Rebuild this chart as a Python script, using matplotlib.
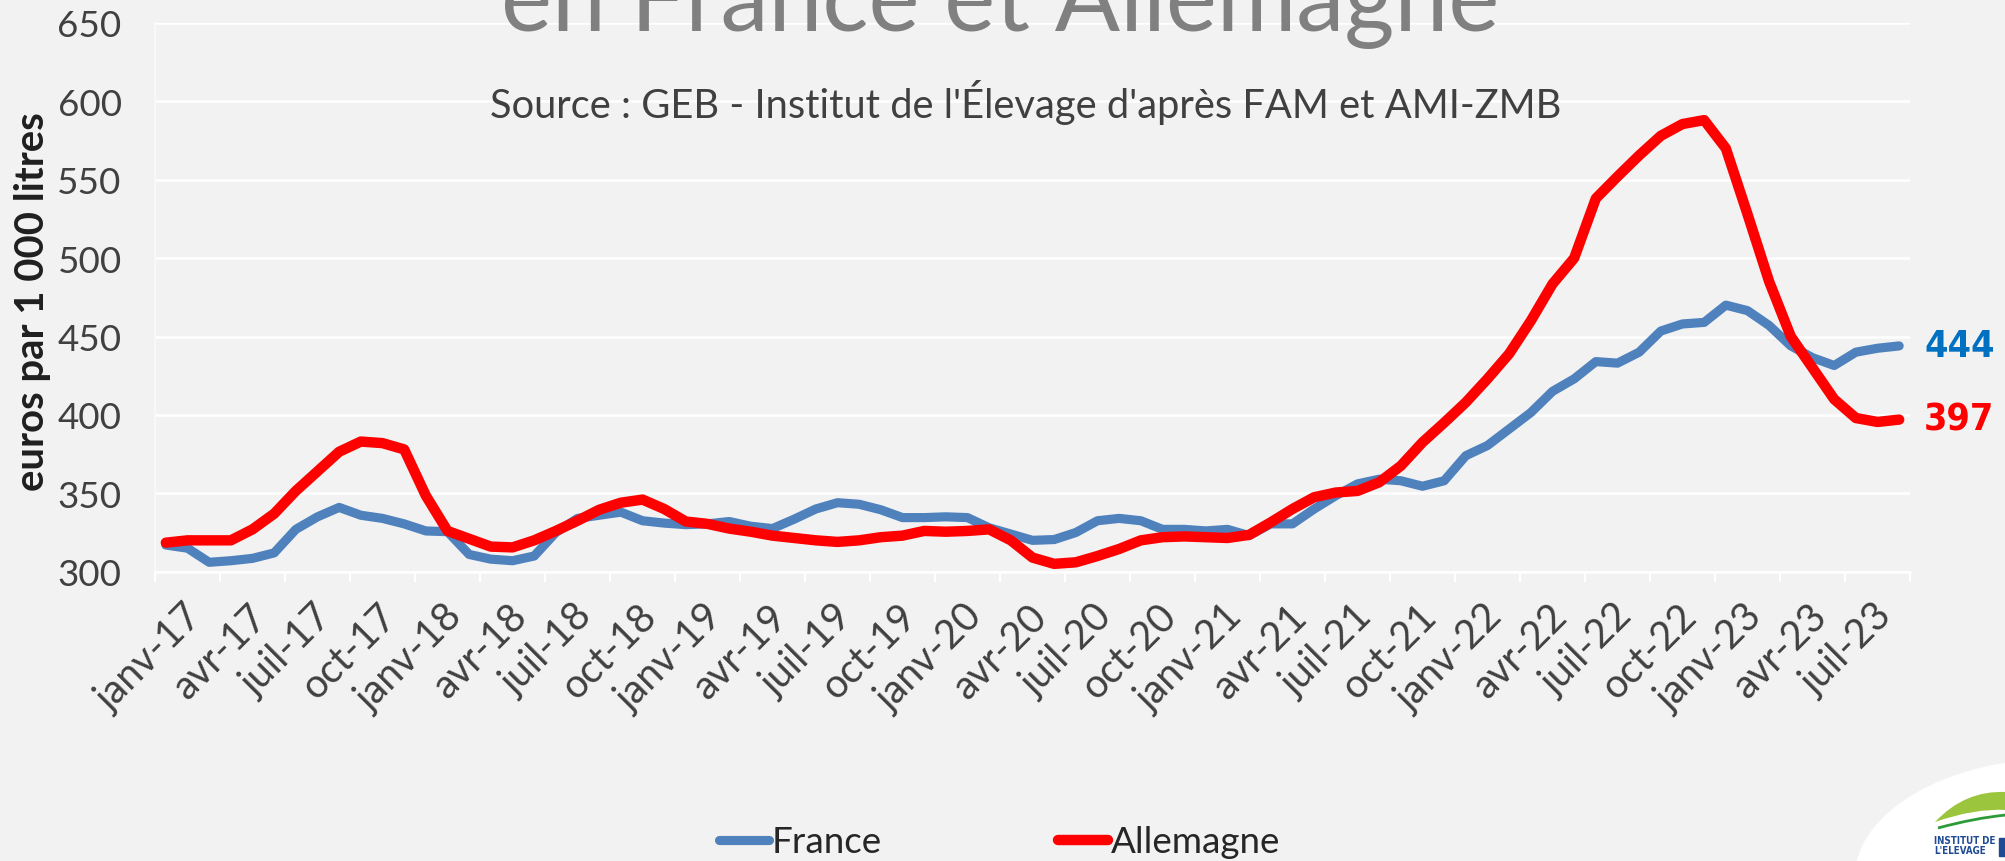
import matplotlib
matplotlib.use("Agg")
import matplotlib.pyplot as plt
from matplotlib import font_manager as fm
from matplotlib.patches import Ellipse, PathPatch, Rectangle
from matplotlib.path import Path
from matplotlib.transforms import ScaledTranslation
import numpy as np

# ---------------- data ----------------
tick_labels = ['janv-17', 'avr-17', 'juil-17', 'oct-17', 'janv-18', 'avr-18', 'juil-18', 'oct-18',
               'janv-19', 'avr-19', 'juil-19', 'oct-19', 'janv-20', 'avr-20', 'juil-20', 'oct-20',
               'janv-21', 'avr-21', 'juil-21', 'oct-21', 'janv-22', 'avr-22', 'juil-22', 'oct-22',
               'janv-23', 'avr-23', 'juil-23']
label_step = 3          # one label every 3 months
n_months = 81           # janv-17 .. sept-23

france = [317, 315, 306, 307, 308.5, 312, 327, 335, 341, 336, 334, 330.5,
          326, 325.5, 311, 308, 307, 310, 325, 334, 336, 338, 332.5, 331,
          330, 330.5, 332, 329, 327.5, 333.5, 340, 344, 343, 339.5, 334.5, 334.5,
          335, 334.5, 328, 324, 320, 320.5, 325, 332.5, 334, 332.5, 327,
          327, 326, 327, 323, 330.5, 330.5, 340, 348.5, 356, 359, 358, 354.5,
          358, 374, 380.5, 391, 401.5, 415, 423, 434, 433, 440, 453.5, 458,
          459, 470, 466.5, 457, 444, 436.5, 431.5, 440, 442.5, 444]

allemagne = [318.5, 320, 320, 320, 327, 337, 351.5, 364, 376.5, 383, 382, 378,
             348.5, 326, 321, 316, 315.5, 320, 326, 332.5, 339.5, 344, 346, 340,
             332, 330.5, 327.5, 325.5, 323, 321.5, 320, 319, 320, 322, 323, 326,
             325.5, 326, 327, 320, 309, 305, 306, 310, 314.5, 320, 322,
             322.5, 322, 321.5, 323.5, 331.5, 340, 347.5, 350.5, 351.5, 357, 367.5,
             382.5, 395, 408, 423, 439, 460, 483.5,
             500, 538, 552, 565.5, 578, 585.5, 588, 570, 528, 485, 450, 430, 410,
             398, 395.5, 397]

series_names = ['France', 'Allemagne']
series_colors = ['#4F81BD', '#FF0000']
label_colors = ['#0070C0', '#FF0000']
y_ticks = [300, 350, 400, 450, 500, 550, 600, 650]

title_text = 'en France et Allemagne'
source_text = "Source : GEB - Institut de l'Élevage d'après FAM et AMI-ZMB"
ylabel_text = 'euros par 1 000 litres'

# ---------------- fonts ----------------
avail = {f.name for f in fm.fontManager.ttflist}
base_font = 'Lato' if 'Lato' in avail else 'DejaVu Sans'
if 'Liberation Sans Narrow' in avail:
    narrow_kw = {'family': 'Liberation Sans Narrow'}
elif any(f.name == 'DejaVu Sans' and f.stretch == 'condensed' for f in fm.fontManager.ttflist):
    narrow_kw = {'family': 'DejaVu Sans', 'fontstretch': 'condensed'}
else:
    narrow_kw = {'family': base_font}
plt.rcParams['font.family'] = [base_font, 'DejaVu Sans']

W, H = 2006, 862
BG = '#F2F2F2'
fig = plt.figure(figsize=(W / 100, H / 100), dpi=100, facecolor=BG)

# plot area in pixel coordinates
x0, x1 = 155, 1910
y_top, y_bot = 23.9, 572.7
ax = fig.add_axes([x0 / W, 1 - y_bot / H, (x1 - x0) / W, (y_bot - y_top) / H])
ax.set_facecolor(BG)

x = np.arange(n_months)
l_fr, = ax.plot(x, france, color=series_colors[0], lw=6.6, solid_capstyle='round',
                solid_joinstyle='round', label=series_names[0], zorder=3)
l_de, = ax.plot(x, allemagne, color=series_colors[1], lw=7.5, solid_capstyle='round',
                solid_joinstyle='round', label=series_names[1], zorder=4)

ax.set_xlim(-0.5, n_months - 0.5)
ax.set_ylim(y_ticks[0], y_ticks[-1])
ax.set_yticks(y_ticks)
ax.grid(axis='y', color='white', lw=1.8)
ax.set_axisbelow(True)
for s in ['top', 'right']:
    ax.spines[s].set_visible(False)
ax.spines['left'].set_color('#FAFAFA')
ax.spines['left'].set_linewidth(1.2)
ax.spines['bottom'].set_color('white')
ax.spines['bottom'].set_linewidth(1.8)

ax.set_xticks(np.arange(0, n_months, label_step))
ax.set_xticklabels(tick_labels)
ax.set_xticks(np.arange(-0.5, n_months, label_step), minor=True)
ax.tick_params(axis='x', which='major', length=0, pad=18, labelsize=28.5, labelcolor='#404040')
ax.tick_params(axis='x', which='minor', length=7, width=1.5, color='white')
shift = ScaledTranslation(17 / 100, 0, fig.dpi_scale_trans)
for lbl in ax.get_xticklabels():
    lbl.set_rotation(45)
    lbl.set_ha('right')
    lbl.set_va('top')
    lbl.set_rotation_mode('anchor')
    lbl.set_transform(lbl.get_transform() + shift)
ax.tick_params(axis='y', length=0, pad=24, labelsize=26.5, labelcolor='#404040')

# end-of-series value labels
for vals, col in zip([france, allemagne], label_colors):
    ax.annotate(f"{vals[-1]:.0f}", xy=(x[-1], vals[-1]), xytext=(18, 0),
                textcoords='offset points', ha='left', va='center', color=col,
                fontsize=27, fontweight='bold', annotation_clip=False, **narrow_kw)

# legend
fig.legend(handles=[l_fr, l_de], labels=series_names, loc='center left',
           bbox_to_anchor=(719 / W, 1 - 843 / H), ncol=2, frameon=False,
           prop={'family': base_font, 'size': 26.5}, handlelength=1.35,
           handletextpad=0.08, columnspacing=4.8, borderpad=0, borderaxespad=0,
           labelcolor='#262626')

# title / subtitle / y label
t_title = fig.text(1000 / W, 1 - 31 / H, title_text, ha='center', va='baseline',
                   color='#808080', fontsize=60, fontweight='normal')
t_src = fig.text(1026 / W, 1 - 118 / H, source_text, ha='center', va='baseline',
                 color='#404040', fontsize=26)
t_yl = fig.text(33 / W, 1 - 302 / H, ylabel_text, rotation=90, ha='center', va='center',
                color='#1F1F1F', fontsize=24, fontweight='bold')

fig.canvas.draw()
r = fig.canvas.get_renderer()
for t, target, use_h in [(t_title, 1000, False), (t_src, 1070, False), (t_yl, 378, True)]:
    bb = t.get_window_extent(r)
    cur = bb.height if use_h else bb.width
    t.set_fontsize(t.get_fontsize() * target / cur)

# logo (bottom right) drawn in pixel coordinates
lax = fig.add_axes([0, 0, 1, 1], zorder=-1)
lax.set_xlim(0, W)
lax.set_ylim(H, 0)
lax.axis('off')
lax.patch.set_alpha(0)
lax.add_patch(Ellipse((2060, 880), 410, 240, color='white', zorder=1))
verts = [(1935, 823), (1965, 791), (2006, 793), (2006, 811), (1975, 809), (1935, 823)]
codes = [Path.MOVETO, Path.CURVE3, Path.CURVE3, Path.LINETO, Path.CURVE3, Path.CURVE3]
lax.add_patch(PathPatch(Path(verts, codes), facecolor='#9BC53D', edgecolor='none', zorder=2))
arc = Path([(1938, 829), (1975, 819), (2006, 816)], [Path.MOVETO, Path.CURVE3, Path.CURVE3])
lax.add_patch(PathPatch(arc, facecolor='none', edgecolor='#2E9B3A', lw=2, zorder=2))
lax.text(1934, 841, 'INSTITUT DE', fontsize=7, fontweight='bold', color='#1F4A94',
         va='center', ha='left', zorder=3, **narrow_kw)
lax.text(1934, 851, "L'ELEVAGE", fontsize=7, fontweight='bold', color='#1F4A94',
         va='center', ha='left', zorder=3, **narrow_kw)
lax.add_patch(Rectangle((1999, 839), 7, 18, color='#1F4A94', zorder=3))

fig.savefig('out.png', dpi=100, facecolor=BG)
